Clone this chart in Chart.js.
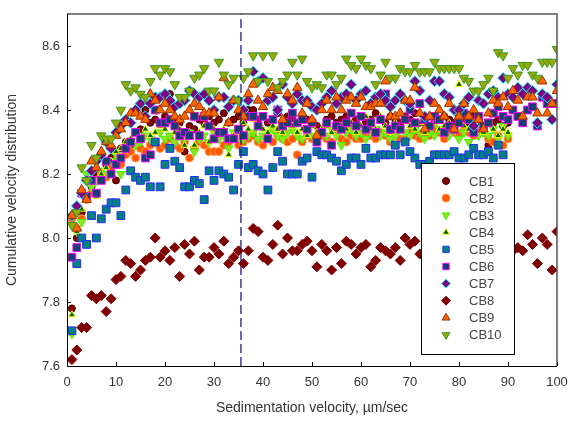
<!DOCTYPE html>
<html>
<head>
<meta charset="utf-8">
<script src="https://cdn.jsdelivr.net/npm/chart.js@4/dist/chart.umd.min.js"></script>
<style>
  body { margin: 0; background: #fff; }
  #wrap { width: 568px; height: 421px; }
</style>
</head>
<body>
<div id="wrap"><canvas id="myChart" width="568" height="421"></canvas></div>
<script>
// sedimentation velocity, um/sec (x values of every series)
var velocity = [1,2,3,4,5,6,7,8,9,10,11,12,13,14,15,16,17,18,19,20,
  21,22,23,24,25,26,27,28,29,30,31,32,33,34,35,36,37,38,39,40,
  41,42,43,44,45,46,47,48,49,50,51,52,53,54,55,56,57,58,59,60,
  61,62,63,64,65,66,67,68,69,70,71,72,73,74,75,76,77,78,79,80,
  81,82,83,84,85,86,87,88,89,90,91,92,93,94,95,96,97,98,99,100];

var labels = ['CB1','CB2','CB3','CB4','CB5','CB6','CB7','CB8','CB9','CB10'];
var xTicks = [0,10,20,30,40,50,60,70,80,90,100];
var yTicks = [7.6,7.8,8.0,8.2,8.4,8.6];
var cutoff = 35.5;

var cb1 = [7.78,8.00,8.08,8.13,8.16,8.20,8.19,8.23,8.25,8.18,8.28,8.30,8.29,8.33,8.34,8.40,8.36,8.37,8.36,8.38,
  8.45,8.37,8.36,8.27,8.35,8.34,8.37,8.36,8.38,8.36,8.37,8.39,8.36,8.37,8.38,8.36,8.40,8.40,8.37,8.38,
  8.36,8.37,8.39,8.36,8.38,8.37,8.36,8.38,8.37,8.36,8.35,8.32,8.37,8.38,8.36,8.37,8.38,8.36,8.37,8.38,
  8.36,8.37,8.39,8.37,8.36,8.38,8.37,8.36,8.38,8.37,8.39,8.36,8.37,8.38,8.36,8.37,8.38,8.37,8.36,8.38,
  8.37,8.36,8.38,8.37,8.35,8.29,8.36,8.37,8.35,8.36];
var cb2 = [8.06,8.03,8.06,8.12,8.14,8.18,8.20,8.19,8.22,8.24,8.23,8.26,8.27,8.25,8.28,8.27,8.29,8.30,8.28,8.29,
  8.31,8.29,8.28,8.30,8.25,8.28,8.30,8.29,8.27,8.27,8.27,8.29,8.30,8.31,8.29,8.30,8.31,8.32,8.30,8.29,
  8.31,8.30,8.32,8.31,8.30,8.31,8.26,8.30,8.32,8.31,8.30,8.32,8.31,8.30,8.33,8.31,8.30,8.32,8.31,8.31,
  8.33,8.32,8.31,8.33,8.32,8.30,8.32,8.31,8.31,8.33,8.32,8.31,8.33,8.32,8.34,8.33,8.31,8.33,8.33,8.32,
  8.34,8.33,8.32,8.34,8.33,8.31,8.30,8.32,8.29,8.31];
var cb3 = [7.70,8.02,8.05,8.20,8.16,8.18,8.21,8.20,8.24,8.26,8.20,8.28,8.30,8.29,8.30,8.32,8.31,8.30,8.33,8.31,
  8.32,8.30,8.32,8.31,8.33,8.27,8.31,8.32,8.30,8.33,8.31,8.32,8.28,8.33,8.32,8.31,8.32,8.33,8.31,8.32,
  8.33,8.34,8.32,8.31,8.33,8.34,8.32,8.31,8.33,8.32,8.31,8.33,8.32,8.34,8.32,8.29,8.33,8.34,8.32,8.33,
  8.31,8.33,8.34,8.32,8.33,8.31,8.32,8.34,8.33,8.32,8.34,8.33,8.31,8.33,8.32,8.34,8.33,8.32,8.34,8.31,
  8.33,8.30,8.34,8.32,8.33,8.32,8.34,8.31,8.35,8.32];
var cb4 = [7.76,8.02,8.09,8.12,8.18,8.13,8.20,8.22,8.24,8.27,8.28,8.30,8.31,8.33,8.31,8.34,8.32,8.33,8.35,8.34,
  8.36,8.33,8.34,8.29,8.33,8.29,8.33,8.35,8.30,8.34,8.33,8.34,8.26,8.32,8.33,8.36,8.34,8.37,8.35,8.34,
  8.33,8.35,8.34,8.33,8.36,8.35,8.33,8.34,8.32,8.35,8.33,8.34,8.35,8.33,8.34,8.35,8.34,8.36,8.33,8.35,
  8.38,8.34,8.34,8.38,8.35,8.33,8.36,8.34,8.37,8.35,8.34,8.36,8.33,8.35,8.36,8.34,8.35,8.36,8.34,8.48,
  8.35,8.34,8.36,8.35,8.33,8.36,8.34,8.32,8.34,8.33];
var cb5 = [7.71,7.92,8.00,7.98,8.07,8.00,8.06,8.09,8.11,8.11,8.07,8.15,8.21,8.19,8.18,8.19,8.16,8.30,8.16,8.23,
  8.28,8.24,8.22,8.16,8.16,8.18,8.17,8.12,8.21,8.18,8.21,8.20,8.19,8.15,8.23,8.27,8.22,8.23,8.21,8.20,
  8.15,8.22,8.27,8.24,8.20,8.20,8.20,8.24,8.25,8.19,8.27,8.26,8.26,8.25,8.24,8.21,8.23,8.25,8.25,8.23,
  8.28,8.25,8.25,8.26,8.26,8.26,8.29,8.26,8.30,8.27,8.25,8.23,8.23,8.24,8.26,8.26,8.26,8.26,8.27,8.25,
  8.25,8.26,8.28,8.26,8.26,8.27,8.25,8.29,8.26];
var cb6 = [7.94,7.97,8.14,8.13,8.18,8.14,8.18,8.24,8.20,8.23,8.25,8.28,8.30,8.33,8.31,8.25,8.26,8.40,8.36,8.36,
  8.37,8.35,8.32,8.33,8.32,8.38,8.32,8.38,8.35,8.31,8.33,8.33,8.31,8.31,8.34,8.32,8.38,8.38,8.35,8.38,
  8.31,8.37,8.40,8.35,8.36,8.39,8.36,8.37,8.34,8.36,8.30,8.33,8.36,8.29,8.35,8.34,8.36,8.39,8.35,8.38,
  8.34,8.36,8.33,8.37,8.45,8.34,8.35,8.34,8.37,8.40,8.36,8.42,8.37,8.35,8.38,8.37,8.33,8.35,8.34,8.36,
  8.39,8.37,8.33,8.38,8.35,8.36,8.39,8.41,8.38,8.37,8.40,8.38,8.36,8.40,8.41,8.35,8.44,8.42,8.42,8.42];
var cb7 = [8.07,8.10,8.14,8.18,8.21,8.24,8.26,8.30,8.28,8.33,8.35,8.37,8.36,8.40,8.42,8.38,8.42,8.44,8.44,8.45,
  8.43,8.41,8.42,8.43,8.46,8.45,8.44,8.45,8.43,8.40,8.44,8.44,8.41,8.43,8.43,8.40,8.43,8.52,8.49,8.50,
  8.43,8.44,8.40,8.48,8.44,8.42,8.45,8.43,8.43,8.41,8.40,8.42,8.44,8.46,8.42,8.44,8.45,8.48,8.43,8.45,
  8.46,8.42,8.44,8.45,8.43,8.41,8.43,8.45,8.43,8.42,8.49,8.46,8.38,8.43,8.49,8.49,8.45,8.44,8.40,8.40,
  8.42,8.44,8.35,8.43,8.42,8.45,8.46,8.44,8.50,8.45,8.44,8.47,8.45,8.47,8.46,8.36,8.45,8.44,8.37,8.48];
var cb8 = [7.62,7.65,7.72,7.72,7.82,7.81,7.82,7.77,7.81,7.87,7.88,7.93,7.92,7.88,7.90,7.93,7.94,8.00,7.94,7.96,
  7.93,7.97,7.88,7.98,7.95,7.99,7.90,7.94,7.94,7.97,7.95,7.99,7.92,7.94,7.96,7.92,7.96,8.03,8.02,7.94,
  7.93,7.98,8.04,7.95,8.00,7.96,7.96,7.98,7.99,7.96,7.91,7.98,7.96,7.90,7.97,7.92,7.99,7.98,7.95,7.97,
  7.98,7.91,7.93,7.97,7.96,7.95,7.97,7.93,8.00,7.98,7.99,7.95,7.96,7.93,7.98,7.95,7.97,7.94,7.99,7.96,
  7.93,7.97,7.95,7.98,7.94,7.96,7.99,7.95,7.97,7.94,7.96,7.97,7.96,8.01,7.98,7.92,8.00,7.98,7.90,8.02];
var cb9 = [8.07,8.03,8.15,8.12,8.24,8.22,8.27,8.30,8.29,8.32,8.34,8.36,8.39,8.39,8.38,8.37,8.45,8.43,8.40,8.42,
  8.40,8.38,8.37,8.38,8.40,8.42,8.41,8.39,8.39,8.39,8.44,8.50,8.36,8.43,8.40,8.38,8.45,8.48,8.43,8.41,
  8.45,8.47,8.46,8.37,8.45,8.43,8.47,8.39,8.42,8.37,8.32,8.40,8.43,8.40,8.44,8.40,8.43,8.44,8.42,8.44,
  8.41,8.41,8.42,8.42,8.49,8.38,8.38,8.39,8.43,8.43,8.47,8.39,8.34,8.38,8.42,8.40,8.38,8.42,8.34,8.38,
  8.42,8.38,8.40,8.37,8.34,8.39,8.43,8.42,8.44,8.41,8.46,8.43,8.38,8.44,8.44,8.39,8.49,8.39,8.42,8.46];
var cb10 = [8.04,8.08,8.22,8.18,8.29,8.25,8.32,8.31,8.31,8.36,8.40,8.48,8.46,8.47,8.45,8.44,8.49,8.53,8.51,8.53,
  8.52,8.48,8.44,8.44,8.46,8.50,8.51,8.53,8.46,8.46,8.55,8.51,8.48,8.50,8.43,8.50,8.52,8.57,8.49,8.57,
  8.49,8.57,8.47,8.49,8.51,8.55,8.51,8.56,8.49,8.47,8.48,8.47,8.51,8.51,8.48,8.50,8.56,8.54,8.53,8.56,
  8.54,8.53,8.48,8.51,8.55,8.50,8.50,8.53,8.52,8.52,8.54,8.52,8.52,8.52,8.55,8.53,8.53,8.53,8.53,8.53,
  8.50,8.49,8.46,8.46,8.48,8.50,8.46,8.58,8.57,8.50,8.53,8.51,8.54,8.54,8.51,8.50,8.55,8.55,8.55,8.59];

var seriesValues = [cb1, cb2, cb3, cb4, cb5, cb6, cb7, cb8, cb9, cb10];

// marker look per series (Excel-like)
var markerStyle = [
  { shape: 'circle',   rot: 0,   r: 3.5, fill: '#800000', edge: '#4a0000' },
  { shape: 'circle',   rot: 0,   r: 4,   fill: '#ff5a00', edge: '#ff9a50' },
  { shape: 'triangle', rot: 180, r: 5,   fill: '#9bdc1e', edge: '#33ff00' },
  { shape: 'triangle', rot: 0,   r: 4,   fill: '#006600', edge: '#ffff00' },
  { shape: 'rect',     rot: 0,   r: 5.5, fill: '#008080', edge: '#2a2aff' },
  { shape: 'rect',     rot: 0,   r: 5.5, fill: '#133f70', edge: '#ff00ff' },
  { shape: 'rectRot',  rot: 0,   r: 5.5, fill: '#800080', edge: '#00ffff' },
  { shape: 'rectRot',  rot: 0,   r: 5,   fill: '#800000', edge: '#800000' },
  { shape: 'triangle', rot: 0,   r: 5.5, fill: '#ff6600', edge: '#993300' },
  { shape: 'triangle', rot: 180, r: 5.5, fill: '#9aa800', edge: '#339933' }
];

var datasets = seriesValues.map(function (vals, i) {
  var st = markerStyle[i];
  return {
    type: 'scatter',
    label: labels[i],
    data: vals.map(function (v, k) { return { x: velocity[k], y: v }; }),
    pointStyle: st.shape,
    pointRotation: st.rot,
    pointRadius: st.r,
    pointHoverRadius: st.r,
    backgroundColor: st.fill,
    borderColor: st.edge,
    pointBorderWidth: 1,
    order: 10 - i
  };
});

// vertical dashed line
datasets.push({
  type: 'line',
  label: 'cutoff',
  data: [{ x: cutoff, y: 7.6 }, { x: cutoff, y: 8.7 }],
  borderColor: '#1f1f8f',
  borderWidth: 1.3,
  borderDash: [9, 4],
  pointRadius: 0,
  fill: false,
  order: 0
});

var frameAndLegend = {
  id: 'frameAndLegend',
  afterDraw: function (chart) {
    var c = chart.ctx, a = chart.chartArea;
    var xs = chart.scales.x, ys = chart.scales.y;
    c.save();
    // plot frame
    c.strokeStyle = '#555';
    c.lineWidth = 1.5;
    c.beginPath();
    c.moveTo(a.left, a.top); c.lineTo(a.right, a.top); c.lineTo(a.right, a.bottom);
    c.stroke();
    c.strokeStyle = '#000';
    c.lineWidth = 1;
    c.beginPath();
    c.moveTo(a.left + 0.5, a.top); c.lineTo(a.left + 0.5, a.bottom + 0.5); c.lineTo(a.right, a.bottom + 0.5);
    c.stroke();
    // inner tick marks
    c.beginPath();
    yTicks.forEach(function (v) {
      var py = Math.round(ys.getPixelForValue(v)) + 0.5;
      c.moveTo(a.left, py); c.lineTo(a.left + 4, py);
    });
    xTicks.forEach(function (v) {
      var px = Math.round(xs.getPixelForValue(v)) + 0.5;
      c.moveTo(px, a.bottom); c.lineTo(px, a.bottom - 4);
    });
    c.stroke();

    // legend box inside plot
    var bx = 421, by = 163, bw = 93, bh = 191;
    c.fillStyle = '#fff';
    c.fillRect(bx, by, bw, bh);
    c.strokeStyle = '#000';
    c.lineWidth = 1;
    c.strokeRect(bx + 0.5, by + 0.5, bw, bh);
    c.font = '13px "Liberation Sans", Arial, sans-serif';
    c.textBaseline = 'middle';
    c.textAlign = 'left';
    for (var i = 0; i < labels.length; i++) {
      var st = markerStyle[i];
      var my = 181 + i * 17.1;
      c.fillStyle = st.fill;
      c.strokeStyle = st.edge;
      c.lineWidth = 1;
      Chart.helpers.drawPoint(c, { pointStyle: st.shape, radius: Math.min(st.r, 4.5), rotation: st.rot, borderWidth: 1 }, 446, my);
      c.fillStyle = '#444';
      c.fillText(labels[i], 469, my + 1);
    }
    c.restore();
  }
};

var ctx = document.getElementById('myChart').getContext('2d');
var chart = new Chart(ctx, {
  data: { datasets: datasets },
  options: {
    responsive: false,
    animation: false,
    devicePixelRatio: 1,
    layout: { padding: { left: 0, top: 14, right: 0, bottom: 0 } },
    plugins: {
      legend: { display: false },
      tooltip: { enabled: false }
    },
    scales: {
      x: {
        type: 'linear',
        min: 0, max: 100,
        afterBuildTicks: function (s) { s.ticks = xTicks.map(function (v) { return { value: v }; }); },
        afterFit: function (s) { s.height = 55; s.paddingRight = 11; s.paddingLeft = 0; },
        grid: { display: false, drawTicks: false },
        border: { display: false },
        ticks: { padding: 9, color: '#333', font: { family: '"Liberation Sans", Arial', size: 13 }, maxRotation: 0 },
        title: { display: true, text: 'Sedimentation velocity, \u00b5m/sec', color: '#333',
          font: { family: '"Liberation Sans", Arial', size: 14 }, padding: { top: 0, bottom: 4 } }
      },
      y: {
        type: 'linear',
        min: 7.6, max: 8.7,
        afterBuildTicks: function (s) { s.ticks = yTicks.map(function (v) { return { value: v }; }); },
        afterFit: function (s) { s.width = 67; s.paddingTop = 0; s.paddingBottom = 0; },
        grid: { display: false, drawTicks: false },
        border: { display: false },
        ticks: { padding: 7, color: '#333', font: { family: '"Liberation Sans", Arial', size: 13 },
          callback: function (v) { return Number(v).toFixed(1); } },
        title: { display: true, text: 'Cumulative velocity distribution', color: '#333',
          font: { family: '"Liberation Sans", Arial', size: 14 }, padding: { top: 4, bottom: 0 } }
      }
    }
  },
  plugins: [frameAndLegend]
});
</script>
</body>
</html>
